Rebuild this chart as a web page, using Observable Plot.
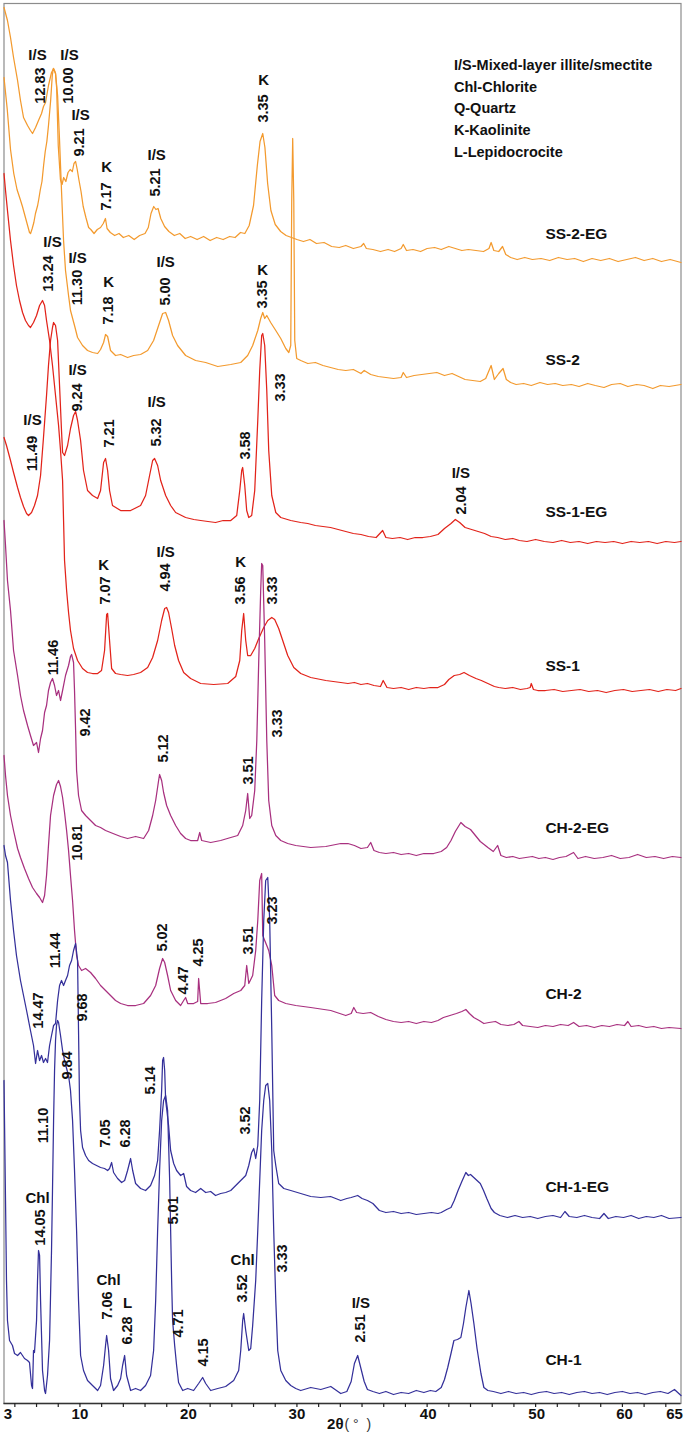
<!DOCTYPE html>
<html><head><meta charset="utf-8">
<script src="https://cdn.jsdelivr.net/npm/d3@7"></script>
<script src="https://cdn.jsdelivr.net/npm/@observablehq/plot@0.6"></script>
<style>
html,body{margin:0;padding:0;background:#fff;}
#chart svg{display:block;}
</style>
</head><body><div id="chart"></div>
<script>
// ---- samples (top to bottom) ----
const samples = ["SS-2-EG","SS-2","SS-1-EG","SS-1","CH-2-EG","CH-2","CH-1-EG","CH-1"];
const sampleColors = ["#F39A2E","#F39A2E","#E2231A","#E2231A","#A8307F","#A8307F","#34309A","#34309A"];
// label anchor (2θ, stacked intensity) for each sample name
const sampleLabelX = [52.9,52.9,52.9,52.9,52.9,52.9,52.9,52.9];
const sampleLabelY = [1169,1043,891,737,575,409,216,43];

// ---- stacked XRD patterns: [2θ (°), stacked intensity (a.u.)] ----
const ss2eg = [[3.0,1326],[3.3,1294],[3.6,1254],[3.9,1230],[4.2,1214],[4.5,1204],[4.7,1197],[5.0,1185],[5.2,1177],[5.35,1171],[5.45,1170],[5.6,1175],[5.75,1181],[5.9,1190],[6.1,1198],[6.2,1204],[6.35,1214],[6.5,1222],[6.65,1238],[6.8,1252],[6.95,1262],[7.1,1278],[7.3,1303],[7.45,1328],[7.55,1335],[7.65,1333],[7.75,1330],[7.85,1316],[8.0,1258],[8.2,1224],[8.35,1219],[8.5,1226],[8.7,1222],[8.9,1231],[9.1,1234],[9.3,1232],[9.45,1240],[9.6,1242],[9.75,1234],[9.9,1224],[10.1,1212],[10.3,1197],[10.55,1186],[10.8,1176],[11.0,1174],[11.3,1170],[11.6,1174],[11.9,1176],[12.15,1180],[12.35,1185],[12.5,1175],[12.8,1171],[13.2,1168],[13.6,1170],[14.0,1166],[14.5,1168],[15.0,1164],[15.5,1168],[16.0,1170],[16.3,1176],[16.55,1190],[16.8,1197],[17.0,1194],[17.2,1195],[17.45,1185],[17.8,1177],[18.2,1172],[18.7,1168],[19.2,1170],[19.7,1165],[20.2,1167],[20.8,1164],[21.4,1167],[22.0,1163],[22.6,1166],[23.2,1164],[23.8,1167],[24.3,1166],[24.8,1171],[25.2,1170],[25.6,1178],[26.0,1198],[26.35,1238],[26.6,1262],[26.85,1270],[27.05,1256],[27.3,1220],[27.6,1193],[28.0,1179],[28.5,1172],[29.0,1168],[29.5,1166],[30.0,1164],[30.6,1162],[31.2,1164],[31.8,1160],[32.5,1161],[33.2,1157],[33.9,1156],[34.5,1158],[35.2,1155],[35.9,1157],[36.15,1160],[36.4,1155],[37.0,1154],[37.7,1152],[38.4,1154],[39.0,1152],[39.6,1155],[39.8,1159],[40.1,1153],[40.7,1154],[41.4,1152],[42.0,1155],[42.7,1156],[43.3,1154],[44.0,1157],[44.6,1155],[45.2,1153],[45.8,1154],[46.5,1153],[47.2,1152],[47.7,1155],[47.9,1161],[48.15,1153],[48.6,1152],[48.95,1157],[49.25,1149],[49.7,1146],[50.3,1144],[51.0,1146],[51.7,1144],[52.5,1145],[53.3,1143],[54.1,1146],[54.9,1144],[55.6,1145],[56.4,1142],[57.2,1145],[58.0,1143],[58.8,1145],[59.6,1142],[60.4,1144],[61.2,1146],[62.0,1143],[62.8,1145],[63.6,1142],[64.4,1144],[65.4,1141]];

const ss2 = [[3.0,1396],[3.32,1383],[3.6,1366],[3.88,1346],[4.25,1323],[4.52,1303],[4.8,1286],[5.17,1278],[5.44,1273],[5.63,1270],[5.91,1276],[6.18,1283],[6.46,1290],[6.64,1297],[6.83,1301],[7.1,1318],[7.38,1331],[7.57,1335],[7.75,1330],[7.94,1308],[8.12,1263],[8.3,1213],[8.49,1163],[8.67,1133],[8.95,1108],[9.13,1093],[9.5,1078],[9.78,1066],[10.24,1058],[10.7,1053],[11.16,1051],[11.63,1050],[11.9,1054],[12.18,1061],[12.36,1069],[12.55,1067],[12.82,1053],[13.28,1048],[13.75,1049],[14.39,1046],[14.95,1048],[15.59,1049],[16.24,1053],[16.79,1063],[17.25,1078],[17.62,1090],[17.9,1091],[18.17,1083],[18.54,1068],[19.0,1058],[19.74,1048],[20.66,1043],[21.59,1041],[22.7,1037],[23.9,1039],[24.82,1041],[25.46,1048],[25.92,1058],[26.39,1073],[26.66,1085],[26.85,1091],[27.03,1085],[27.22,1088],[27.58,1081],[28.05,1073],[28.51,1065],[28.97,1055],[29.25,1051],[29.43,1058],[29.52,1203],[29.61,1265],[29.71,1203],[29.8,1063],[29.98,1045],[30.35,1043],[31.0,1040],[31.7,1041],[32.4,1038],[33.1,1036],[33.8,1034],[34.5,1033],[35.2,1034],[35.9,1030],[36.2,1033],[36.8,1029],[37.5,1027],[38.2,1026],[38.9,1025],[39.6,1026],[39.8,1031],[40.1,1026],[40.8,1028],[41.5,1029],[42.2,1030],[42.9,1031],[43.6,1028],[44.3,1030],[44.9,1027],[45.5,1024],[46.2,1023],[46.9,1022],[47.4,1025],[47.9,1038],[48.2,1024],[48.6,1030],[49.0,1035],[49.3,1024],[49.7,1021],[50.2,1019],[50.9,1020],[51.6,1018],[52.4,1021],[53.1,1019],[53.8,1020],[54.5,1018],[55.3,1019],[56.0,1017],[56.8,1020],[57.5,1018],[58.3,1016],[59.0,1019],[59.8,1020],[60.5,1017],[61.3,1019],[62.0,1018],[62.8,1015],[63.5,1018],[64.3,1017],[65.4,1019]];

const ss1eg = [[3.0,966],[3.23,958],[3.6,943],[3.88,931],[4.25,916],[4.52,906],[4.8,897],[5.08,890],[5.26,888],[5.54,891],[5.81,898],[6.09,908],[6.37,928],[6.64,966],[6.92,1008],[7.1,1038],[7.29,1063],[7.47,1076],[7.57,1081],[7.75,1078],[7.94,1063],[8.12,1018],[8.3,973],[8.4,951],[8.58,948],[8.86,958],[9.13,975],[9.41,988],[9.6,992],[9.78,983],[10.06,963],[10.33,933],[10.7,913],[11.16,908],[11.63,905],[11.9,913],[12.18,941],[12.36,945],[12.55,933],[12.73,913],[13.0,898],[13.75,893],[14.67,893],[15.59,898],[16.05,908],[16.42,928],[16.7,943],[16.88,945],[17.16,938],[17.44,923],[17.9,908],[18.36,898],[18.82,891],[19.74,886],[20.5,884],[21.13,883],[21.8,882],[22.5,881],[23.2,883],[23.9,883],[24.45,888],[24.73,913],[24.91,933],[25.0,936],[25.19,918],[25.37,893],[25.56,886],[25.83,888],[26.11,913],[26.39,983],[26.57,1033],[26.75,1068],[26.85,1070],[27.03,1058],[27.22,1013],[27.4,953],[27.68,908],[28.05,891],[28.51,886],[29.43,883],[30.35,881],[31.0,880],[31.7,878],[32.4,877],[33.1,876],[33.8,874],[34.5,872],[35.2,870],[35.9,869],[36.6,867],[37.3,866],[37.9,873],[38.2,866],[38.8,865],[39.5,866],[40.2,864],[40.9,866],[41.6,866],[42.3,867],[43.0,869],[43.6,875],[44.2,880],[44.6,884],[45.0,881],[45.5,876],[46.1,874],[46.7,872],[47.3,870],[47.9,867],[48.5,866],[49.2,864],[49.9,865],[50.5,863],[51.2,862],[52.0,864],[52.8,862],[53.6,861],[54.4,863],[55.2,861],[56.0,862],[56.8,860],[57.6,862],[58.4,861],[59.2,862],[60.0,860],[60.8,862],[61.6,861],[62.4,862],[63.2,860],[64.0,862],[64.8,861],[65.4,862]];

const ss1 = [[3.0,1230],[3.14,1213],[3.32,1193],[3.6,1163],[3.88,1138],[4.15,1118],[4.43,1103],[4.71,1091],[4.98,1083],[5.26,1078],[5.44,1076],[5.72,1081],[6.0,1088],[6.28,1098],[6.55,1103],[6.74,1098],[6.92,1083],[7.2,1063],[7.47,1038],[7.75,1008],[8.03,978],[8.21,953],[8.4,923],[8.49,883],[8.58,843],[8.77,813],[8.95,791],[9.13,773],[9.41,755],[9.78,743],[10.24,735],[10.7,731],[11.16,730],[11.63,730],[11.99,733],[12.27,753],[12.46,789],[12.55,790],[12.73,763],[12.92,735],[13.28,730],[13.75,729],[14.39,728],[14.95,729],[15.59,731],[16.24,736],[16.7,746],[17.16,763],[17.53,783],[17.81,795],[17.99,796],[18.17,791],[18.45,775],[18.73,758],[19.09,743],[19.56,731],[20.2,725],[21.13,720],[22.33,719],[23.62,720],[24.36,727],[24.73,743],[24.91,773],[25.09,790],[25.28,763],[25.46,748],[25.74,748],[26.11,755],[26.48,765],[26.94,776],[27.31,783],[27.68,786],[27.95,784],[28.32,775],[28.69,763],[29.15,748],[29.71,736],[30.35,730],[31.27,726],[32.66,723],[34.04,721],[34.7,720],[35.3,721],[35.9,719],[36.5,720],[37.1,718],[37.7,717],[37.95,723],[38.3,716],[38.9,715],[39.6,716],[40.3,714],[41.0,716],[41.7,715],[42.3,716],[43.0,716],[43.6,719],[44.0,724],[44.5,728],[45.0,729],[45.4,731],[45.9,728],[46.5,725],[47.0,723],[47.6,720],[48.2,717],[48.6,716],[49.2,715],[49.9,716],[50.6,714],[51.2,715],[51.5,716],[51.6,720],[51.8,714],[52.2,713],[52.9,713],[53.7,714],[54.5,712],[55.3,713],[56.1,714],[56.9,712],[57.7,713],[58.5,711],[59.3,713],[60.1,714],[60.9,712],[61.7,713],[62.5,714],[63.3,712],[64.1,714],[64.9,713],[65.4,715]];

const ch2eg = [[3.0,883],[3.14,858],[3.32,823],[3.6,793],[3.88,753],[4.25,728],[4.52,708],[4.8,693],[5.17,678],[5.44,668],[5.72,658],[6.0,661],[6.18,651],[6.37,665],[6.55,673],[6.74,691],[6.92,698],[7.1,713],[7.29,721],[7.47,725],[7.66,718],[7.84,708],[8.03,713],[8.21,703],[8.4,713],[8.67,728],[8.95,738],[9.13,747],[9.23,749],[9.41,741],[9.5,713],[9.6,673],[9.69,633],[9.87,608],[10.15,593],[10.52,588],[10.98,583],[11.44,578],[11.9,576],[12.36,573],[12.82,571],[13.28,569],[13.75,567],[14.39,565],[15.13,567],[15.87,565],[16.33,573],[16.7,588],[16.98,603],[17.25,623],[17.34,629],[17.53,623],[17.71,611],[17.99,598],[18.36,588],[18.82,578],[19.28,570],[19.74,565],[20.2,563],[20.85,563],[21.04,571],[21.22,563],[22.05,561],[22.97,563],[23.9,566],[24.54,568],[25.0,578],[25.28,593],[25.46,610],[25.65,585],[25.83,588],[26.11,613],[26.3,663],[26.48,743],[26.66,813],[26.75,840],[26.85,838],[27.03,763],[27.22,663],[27.4,603],[27.68,578],[28.05,568],[28.51,563],[29.15,560],[29.89,558],[31.27,556],[32.66,557],[34.04,560],[34.7,560],[35.3,558],[35.9,555],[36.5,556],[36.8,561],[37.1,553],[37.6,551],[38.2,550],[38.9,551],[39.6,549],[40.3,550],[41.0,548],[41.7,550],[42.6,550],[43.3,552],[43.8,556],[44.2,563],[44.6,572],[45.11,581],[45.5,577],[46.0,574],[46.3,570],[46.9,562],[47.6,556],[48.1,552],[48.5,558],[48.8,548],[49.3,546],[49.9,547],[50.5,545],[51.1,546],[51.7,547],[52.3,545],[52.9,546],[53.6,544],[54.2,546],[54.8,547],[55.5,551],[55.9,545],[56.6,547],[57.4,545],[58.2,546],[59.0,548],[59.8,545],[60.6,546],[61.4,549],[62.2,546],[63.0,547],[63.8,545],[64.6,547],[65.4,546]];

const ch2 = [[3.0,648],[3.14,628],[3.32,608],[3.6,588],[3.88,573],[4.25,555],[4.52,546],[4.89,535],[5.26,525],[5.63,516],[6.0,510],[6.28,506],[6.55,501],[6.74,508],[6.92,528],[7.1,558],[7.29,588],[7.57,608],[7.84,619],[8.03,623],[8.21,617],[8.4,606],[8.58,591],[8.77,573],[8.95,553],[9.13,528],[9.32,503],[9.5,473],[9.69,448],[9.87,438],[10.15,433],[10.52,435],[10.98,431],[11.44,425],[11.9,418],[12.36,413],[12.82,408],[13.28,403],[13.75,400],[14.39,398],[15.13,398],[15.87,400],[16.51,408],[16.98,418],[17.34,435],[17.62,445],[17.81,441],[18.08,428],[18.36,413],[18.82,403],[19.28,398],[19.56,403],[19.74,406],[19.93,400],[20.48,400],[20.85,402],[20.94,425],[21.13,400],[21.77,400],[22.5,401],[23.43,405],[24.17,410],[24.82,413],[25.19,418],[25.37,438],[25.56,420],[25.92,428],[26.2,453],[26.39,483],[26.57,523],[26.75,530],[26.85,468],[27.03,463],[27.22,458],[27.4,453],[27.68,438],[27.95,408],[28.32,403],[28.97,400],[29.89,398],[31.27,396],[33.12,393],[34.5,388],[35.0,390],[35.24,396],[35.5,391],[36.1,390],[36.8,391],[37.5,387],[38.2,384],[38.9,382],[39.6,381],[40.3,382],[41.0,380],[41.7,382],[42.4,381],[43.0,383],[43.5,386],[44.1,388],[44.7,390],[45.2,392],[45.57,394],[45.9,390],[46.3,386],[46.8,383],[47.23,380],[47.7,381],[48.3,382],[48.8,379],[49.45,378],[50.0,379],[50.46,382],[50.8,378],[51.5,377],[52.2,376],[52.9,378],[53.6,377],[54.3,379],[55.0,378],[55.5,381],[56.0,377],[56.7,378],[57.4,376],[58.1,378],[58.8,377],[59.5,379],[60.2,378],[60.5,382],[60.8,377],[61.5,378],[62.2,376],[62.9,377],[63.6,375],[64.3,376],[65.4,375]];

const ch1eg = [[3.0,558],[3.14,548],[3.32,541],[3.6,503],[3.88,473],[4.15,448],[4.52,423],[4.8,408],[5.08,393],[5.44,373],[5.72,358],[5.91,340],[6.09,353],[6.28,343],[6.46,348],[6.64,341],[6.83,345],[7.01,341],[7.2,358],[7.38,368],[7.57,378],[7.75,380],[7.94,403],[8.12,418],[8.3,423],[8.49,418],[8.67,423],[8.86,428],[9.04,438],[9.23,443],[9.41,453],[9.6,460],[9.78,443],[9.87,373],[9.96,303],[10.06,273],[10.24,256],[10.52,248],[10.8,243],[11.16,240],[11.53,238],[11.9,236],[12.27,235],[12.55,233],[12.73,235],[12.92,241],[13.1,231],[13.47,225],[13.84,221],[14.12,223],[14.39,233],[14.67,245],[14.86,233],[15.13,220],[15.59,215],[16.05,213],[16.51,218],[16.88,228],[17.16,243],[17.34,273],[17.53,313],[17.62,343],[17.71,346],[17.81,333],[17.9,303],[17.99,295],[18.17,278],[18.36,253],[18.64,240],[18.91,233],[19.28,228],[19.56,230],[19.83,217],[20.2,213],[20.66,211],[21.13,215],[21.59,211],[22.05,212],[22.5,208],[22.97,210],[23.43,211],[23.9,213],[24.36,218],[24.82,223],[25.28,228],[25.56,238],[25.83,251],[26.02,255],[26.2,245],[26.39,258],[26.57,303],[26.75,403],[26.94,483],[27.12,523],[27.31,526],[27.49,483],[27.68,373],[27.86,253],[28.05,238],[28.32,220],[28.79,215],[29.43,213],[30.35,210],[31.27,207],[32.2,206],[33.1,207],[34.04,203],[34.6,205],[35.0,206],[35.3,207],[35.6,208],[36.0,205],[36.5,203],[37.0,200],[37.6,193],[38.2,191],[38.9,192],[39.6,190],[40.3,191],[41.0,189],[41.7,190],[42.4,191],[43.0,190],[43.3,191],[43.8,194],[44.2,196],[44.5,203],[44.85,213],[45.2,222],[45.57,231],[45.8,228],[46.0,229],[46.3,226],[46.6,223],[46.9,220],[47.2,213],[47.5,205],[47.9,195],[48.2,191],[48.7,188],[49.4,186],[50.1,188],[50.8,186],[51.5,187],[52.2,185],[52.9,187],[53.6,188],[54.3,186],[54.7,192],[55.1,187],[55.8,186],[56.5,188],[57.2,186],[57.9,185],[58.3,190],[58.7,185],[59.4,187],[60.1,186],[60.8,188],[61.5,185],[62.2,187],[62.9,186],[63.6,188],[64.3,185],[65.4,186]];

const ch1 = [[3.0,323],[3.14,203],[3.23,123],[3.32,83],[3.51,63],[3.78,58],[3.97,50],[4.25,48],[4.52,51],[4.89,45],[5.17,43],[5.35,41],[5.54,18],[5.63,15],[5.72,53],[5.81,51],[6.0,83],[6.09,123],[6.18,153],[6.28,148],[6.37,103],[6.55,33],[6.74,13],[6.83,10],[7.01,28],[7.2,63],[7.38,153],[7.47,213],[7.57,283],[7.66,333],[7.75,363],[7.84,378],[7.94,383],[8.03,381],[8.21,368],[8.4,353],[8.58,343],[8.77,335],[8.95,328],[9.13,313],[9.32,283],[9.5,233],[9.69,173],[9.87,103],[10.06,48],[10.33,33],[10.7,23],[11.16,18],[11.63,13],[11.9,18],[12.18,38],[12.36,58],[12.46,68],[12.64,53],[12.82,25],[13.1,13],[13.47,18],[13.75,25],[13.93,38],[14.12,48],[14.3,28],[14.67,13],[15.13,15],[15.59,13],[16.05,18],[16.51,28],[16.79,53],[16.98,103],[17.16,173],[17.34,233],[17.53,283],[17.71,303],[17.9,308],[18.08,293],[18.27,223],[18.45,123],[18.54,83],[18.73,58],[18.91,38],[19.09,21],[19.47,13],[19.93,15],[20.48,13],[20.94,20],[21.31,26],[21.59,20],[22.05,13],[22.7,15],[23.43,17],[24.17,23],[24.63,33],[24.82,53],[25.0,83],[25.09,90],[25.28,73],[25.56,53],[25.74,55],[25.92,78],[26.2,123],[26.39,173],[26.57,223],[26.75,273],[26.94,303],[27.12,318],[27.31,320],[27.49,303],[27.68,253],[27.86,173],[28.05,103],[28.23,53],[28.51,33],[28.97,23],[29.43,18],[29.89,15],[30.35,13],[31.27,16],[32.2,14],[33.12,17],[34.04,10],[34.6,12],[35.0,22],[35.3,40],[35.6,48],[35.9,35],[36.2,22],[36.5,14],[37.0,12],[37.6,10],[38.2,12],[38.9,9],[39.6,11],[40.3,10],[41.0,13],[41.7,11],[42.3,13],[42.8,12],[43.3,16],[43.6,24],[43.9,36],[44.2,50],[44.47,63],[44.8,64],[45.11,66],[45.35,80],[45.57,96],[45.85,113],[46.05,100],[46.31,80],[46.6,55],[46.96,30],[47.23,16],[47.6,13],[48.1,12],[48.8,10],[49.5,12],[50.2,10],[50.9,11],[51.6,9],[52.3,11],[53.0,12],[53.7,10],[54.4,11],[55.1,9],[55.8,11],[56.5,12],[57.2,10],[57.9,11],[58.6,9],[59.3,11],[60.0,12],[60.7,10],[61.4,11],[62.1,9],[62.8,11],[63.5,12],[64.2,10],[64.8,14],[65.4,8]];

const patterns = [ss2eg, ss2, ss1eg, ss1, ch2eg, ch2, ch1eg, ch1];

// ---- peak annotations: mineral tags (horizontal) and d-spacings in Å (vertical) ----
const tagText = ["I/S","I/S","I/S","K","I/S","K", "I/S","I/S","K","I/S","K", "I/S","I/S","I/S","I/S", "K","I/S","K", "Chl","Chl","L","Chl","I/S"];
const tagX    = [6.09,9.04,10.06,12.46,17.07,26.94, 7.47,9.78,12.64,17.9,26.85, 9.78,5.63,17.07,45.11, 12.18,17.9,24.82, 6.09,12.64,14.39,25.0,35.89];
const tagY    = [1348,1348,1288,1236,1248,1323, 1161,1145,1121,1141,1133, 1033,983,1001,930, 838,851,841, 205,123,100,143,100];

const dText = ["12.83","10.00","9.21","7.17","5.21","3.35",
  "13.24","11.30","7.18","5.00","3.35",
  "9.24","11.49","7.21","5.32","3.58","3.33","2.04",
  "7.07","4.94","3.56","3.33",
  "11.46","9.42","5.12","3.51","3.33",
  "10.81","5.02","4.47","4.25","3.51","3.23",
  "11.44","14.47","9.68","9.84","11.10","5.14","7.05","6.28","3.52",
  "14.05","5.01","7.06","6.28","4.71","4.15","3.52","3.33","2.51"];
const dX = [6.37,8.95,9.96,12.46,16.98,26.94,
  7.1,9.78,12.64,17.9,26.85,
  9.78,5.63,12.73,17.07,25.28,28.51,45.11,
  12.36,17.9,24.82,27.77,
  7.57,10.52,17.71,25.56,28.23,
  9.78,17.62,19.56,20.94,25.56,27.77,
  7.75,6.18,10.24,8.86,6.64,16.51,12.36,14.21,25.28,
  6.37,18.64,12.55,14.39,19.09,21.4,25.0,28.69,35.89];
const dY = [1318,1318,1261,1207,1221,1295,
  1130,1116,1093,1112,1109,
  1006,950,970,971,958,1016,903,
  813,826,813,813,
  746,681,655,633,680,
  561,466,423,451,463,493,
  453,393,396,338,278,323,270,270,283,
  176,193,98,73,80,51,115,145,75];

// ---- axis ----
const minorTickValues = [4,6,8,10,12,14,16,18,20,22,24,26,28,30,32,34,36,38,40,42,44,46,48,50,52,54,56,58,60,62,64];
const tickLabelAt   = [3.35,10,20,30,42.1,52.1,60.2,64.8];
const tickLabelText = ["3","10","20","30","40","50","60","65"];

const legendLines = ["I/S-Mixed-layer illite/smectite","Chl-Chlorite","Q-Quartz","K-Kaolinite","L-Lepidocrocite"];

const FONT = "'Liberation Sans', Arial, Helvetica, sans-serif";

const lineMarks = patterns.map((p, i) => Plot.line(p, {
  x: d => d[0], y: d => d[1], stroke: sampleColors[i], strokeWidth: 1.25
}));

const chart = Plot.plot({
  width: 685,
  height: 1436,
  marginLeft: 3.5,
  marginRight: 4.5,
  marginTop: 3,
  marginBottom: 33,
  style: {fontFamily: FONT, background: "#fff", color: "#111"},
  x: {domain: [3, 65.4]},
  y: {domain: [0, 1400], axis: null},
  marks: [
    Plot.frame({stroke: "#8c8c8c", strokeWidth: 1.2}),
    ...lineMarks,
    Plot.ruleY([0], {stroke: "#333", strokeWidth: 1.3}),
    Plot.axisX(minorTickValues, {tickSize: 4, tickFormat: () => "", stroke: "#222", strokeWidth: 1.2, label: null}),
    Plot.axisX(tickLabelAt, {tickSize: 0, tickPadding: 5, tickFormat: d => tickLabelText[tickLabelAt.indexOf(d)], fontSize: 15, fontWeight: "bold", fill: "#111", label: null}),
    Plot.text(["2θ"], {frameAnchor: "bottom", textAnchor: "end", dx: 1, dy: 25, fontSize: 15, fontWeight: "bold", fill: "#111"}),
    Plot.text(["( °  )"], {frameAnchor: "bottom", textAnchor: "start", dx: 2, dy: 25, fontSize: 14, fontWeight: "normal", fill: "#333"}),
    // mineral tags
    Plot.text(tagText, {x: (d, i) => tagX[i], y: (d, i) => tagY[i], text: d => d, fontSize: 15, fontWeight: "bold", fill: "#111"}),
    // d-spacing labels
    Plot.text(dText, {x: (d, i) => dX[i], y: (d, i) => dY[i], text: d => d, rotate: -90, fontSize: 14.5, fontWeight: "bold", fill: "#111"}),
    // sample names
    Plot.text(samples, {x: (d, i) => sampleLabelX[i], y: (d, i) => sampleLabelY[i], text: d => d, textAnchor: "start", fontSize: 15.5, fontWeight: "bold", fill: "#111"}),
    // legend
    Plot.text([legendLines.join("\n")], {frameAnchor: "top-left", dx: 450, dy: 51, textAnchor: "start", lineAnchor: "top", lineHeight: 1.5, fontSize: 14.5, fontWeight: "bold", fill: "#111"})
  ]
});
document.getElementById("chart").append(chart);
</script>
</body></html>
